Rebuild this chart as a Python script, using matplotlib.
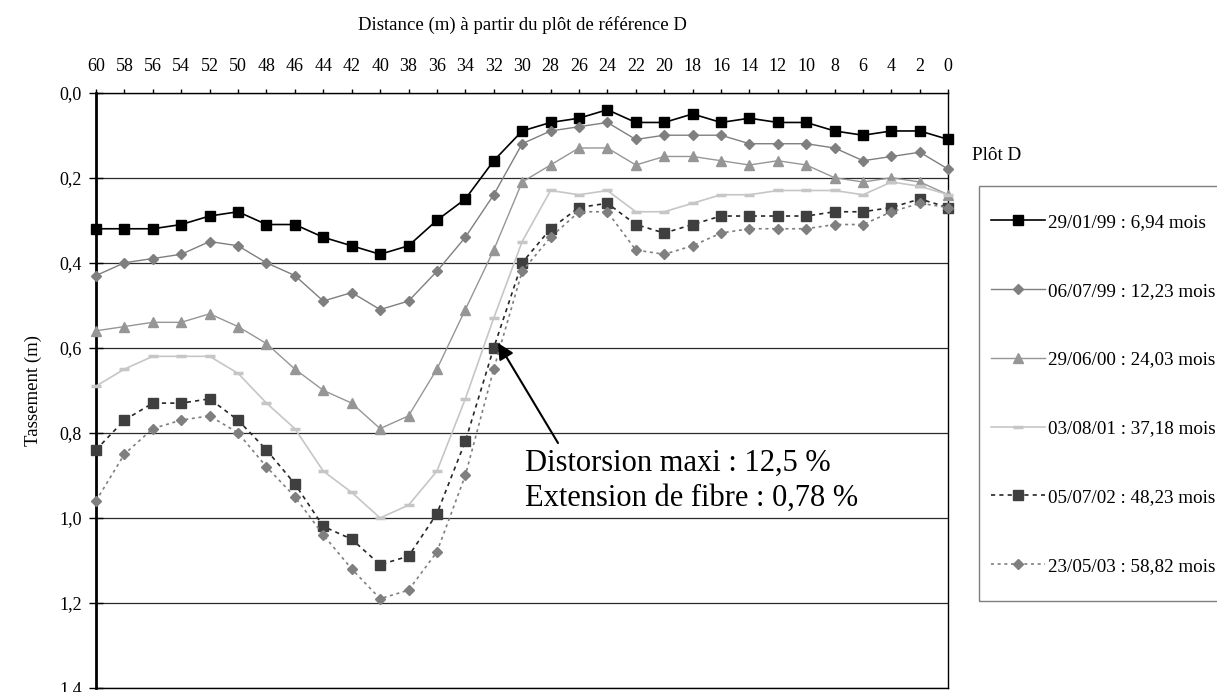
import matplotlib
matplotlib.use("Agg")
import matplotlib.pyplot as plt
from matplotlib.ticker import FuncFormatter, MultipleLocator
from matplotlib.patches import Rectangle

plt.rcParams['font.family'] = ['Liberation Serif', 'DejaVu Serif']

distance = list(range(60, -1, -2))

labels = ["29/01/99 : 6,94 mois", "06/07/99 : 12,23 mois", "29/06/00 : 24,03 mois",
          "03/08/01 : 37,18 mois", "05/07/02 : 48,23 mois", "23/05/03 : 58,82 mois"]

s_1999a = [0.32, 0.32, 0.32, 0.31, 0.29, 0.28, 0.31, 0.31, 0.34, 0.36, 0.38, 0.36, 0.30, 0.25, 0.16,
           0.09, 0.07, 0.06, 0.04, 0.07, 0.07, 0.05, 0.07, 0.06, 0.07, 0.07, 0.09, 0.10, 0.09, 0.09, 0.11]
s_1999b = [0.43, 0.40, 0.39, 0.38, 0.35, 0.36, 0.40, 0.43, 0.49, 0.47, 0.51, 0.49, 0.42, 0.34, 0.24,
           0.12, 0.09, 0.08, 0.07, 0.11, 0.10, 0.10, 0.10, 0.12, 0.12, 0.12, 0.13, 0.16, 0.15, 0.14, 0.18]
s_2000 = [0.56, 0.55, 0.54, 0.54, 0.52, 0.55, 0.59, 0.65, 0.70, 0.73, 0.79, 0.76, 0.65, 0.51, 0.37,
          0.21, 0.17, 0.13, 0.13, 0.17, 0.15, 0.15, 0.16, 0.17, 0.16, 0.17, 0.20, 0.21, 0.20, 0.21, 0.24]
s_2001 = [0.69, 0.65, 0.62, 0.62, 0.62, 0.66, 0.73, 0.79, 0.89, 0.94, 1.00, 0.97, 0.89, 0.72, 0.53,
          0.35, 0.23, 0.24, 0.23, 0.28, 0.28, 0.26, 0.24, 0.24, 0.23, 0.23, 0.23, 0.24, 0.21, 0.22, 0.24]
s_2002 = [0.84, 0.77, 0.73, 0.73, 0.72, 0.77, 0.84, 0.92, 1.02, 1.05, 1.11, 1.09, 0.99, 0.82, 0.60,
          0.40, 0.32, 0.27, 0.26, 0.31, 0.33, 0.31, 0.29, 0.29, 0.29, 0.29, 0.28, 0.28, 0.27, 0.25, 0.27]
s_2003 = [0.96, 0.85, 0.79, 0.77, 0.76, 0.80, 0.88, 0.95, 1.04, 1.12, 1.19, 1.17, 1.08, 0.90, 0.65,
          0.42, 0.34, 0.28, 0.28, 0.37, 0.38, 0.36, 0.33, 0.32, 0.32, 0.32, 0.31, 0.31, 0.28, 0.26, 0.27]

series = [s_1999a, s_1999b, s_2000, s_2001, s_2002, s_2003]

styles = [
    dict(color='black', lw=1.2, ls='-', marker='s', ms=6.5, mfc='black', mec='black'),
    dict(color='#7f7f7f', lw=1.0, ls='-', marker='D', ms=5.3, mfc='#7f7f7f', mec='#7f7f7f'),
    dict(color='#969696', lw=1.0, ls='-', marker='^', ms=7, mfc='#969696', mec='#969696'),
    dict(color='#c6c6c6', lw=1.2, ls='-', marker='_', ms=7, mfc='#c6c6c6', mec='#c6c6c6', mew=2.5),
    dict(color='#262626', lw=1.2, ls=(0, (2.5, 2.5)), marker='s', ms=6.5, mfc='#3f3f3f', mec='#3f3f3f'),
    dict(color='#7f7f7f', lw=1.2, ls=(0, (1.8, 2.2)), marker='D', ms=5.3, mfc='#7f7f7f', mec='#7f7f7f'),
]

W, H = 1217, 692
fig = plt.figure(figsize=(W / 100, H / 100), dpi=100)
L, R, T, B = 96, 948.3, 92.7, 688
ax = fig.add_axes([L / W, 1 - B / H, (R - L) / W, (B - T) / H])

handles = []
for vals, lab, st in zip(series, labels, styles):
    h, = ax.plot(distance, vals, label=lab, zorder=3, clip_on=False, **st)
    handles.append(h)

ax.set_xlim(60, 0)
ax.set_ylim(1.4, 0)
ax.xaxis.tick_top()
ax.xaxis.set_label_position('top')
ax.xaxis.set_major_locator(MultipleLocator(2))
ax.yaxis.set_major_locator(MultipleLocator(0.2))
ax.yaxis.set_major_formatter(FuncFormatter(lambda v, p: f"{v:.1f}".replace('.', ',')))
ax.tick_params(axis='x', direction='out', length=3, width=1, labelsize=13, pad=10)
ax.tick_params(axis='y', direction='inout', length=10, width=1, labelsize=13, pad=5)
ax.set_xlabel("Distance (m) à partir du plôt de référence D", fontsize=13.5, labelpad=20)
ax.set_ylabel("Tassement (m)", fontsize=13.5)
ax.yaxis.set_label_coords(-0.063, 0.5)

ax.yaxis.grid(True, color='#2a2a2a', lw=0.9, zorder=1)
ax.set_axisbelow(True)
ax.spines['left'].set_linewidth(2)
for s in ['top', 'right', 'bottom']:
    ax.spines[s].set_linewidth(1)
    ax.spines[s].set_color('black')

ax.annotate('', xy=((498 - L) / (R - L), (B - 343) / (B - T)),
            xytext=((558 - L) / (R - L), (B - 443) / (B - T)),
            xycoords='axes fraction', textcoords='axes fraction',
            arrowprops=dict(arrowstyle='-|>', color='black', lw=1.5,
                            mutation_scale=24, shrinkA=0, shrinkB=0), zorder=5)
ax.text((525 - L) / (R - L), (B - 449) / (B - T),
        "Distorsion maxi : 12,5 %\nExtension de fibre : 0,78 %",
        transform=ax.transAxes, fontsize=22, va='top', ha='left', linespacing=1.25, zorder=6)

fig.text(972 / W, 1 - 156 / H, "Plôt D", fontsize=13.8, va='center', ha='left')

fig.patches.append(Rectangle((979 / W, 1 - 601 / H), (1240 - 979) / W, (601 - 185.7) / H,
                             transform=fig.transFigure, fill=False, edgecolor='#7f7f7f', lw=1))
leg = fig.legend(handles=handles, labels=labels, loc='upper left',
                 bbox_to_anchor=(991 / W, 1 - 213.5 / H), frameon=False, fontsize=13.8,
                 handlelength=2.8, handletextpad=0.2, labelspacing=2.68, borderpad=0,
                 borderaxespad=0)

fig.savefig("out.png", dpi=100)
